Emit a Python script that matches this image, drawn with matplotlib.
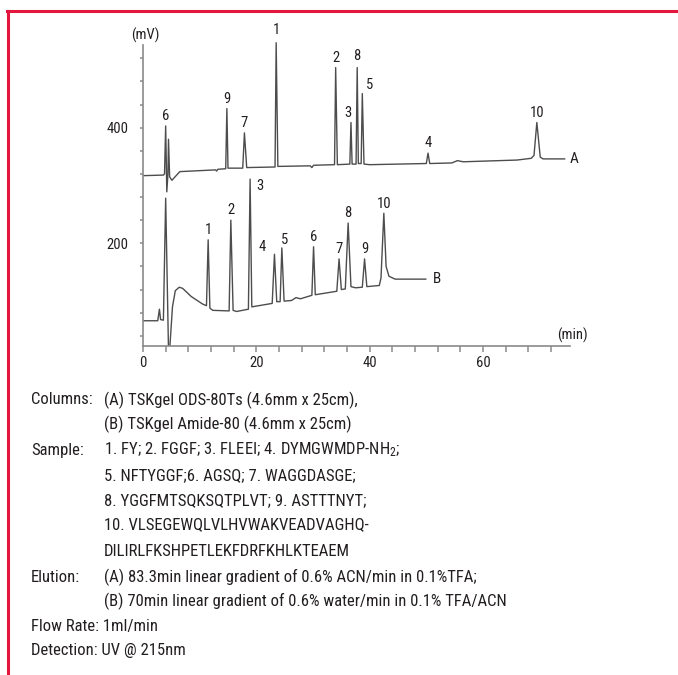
import numpy as np
import matplotlib.pyplot as plt
from matplotlib.lines import Line2D
from matplotlib import font_manager

# pick a condensed face if there is one, otherwise the narrowest plain sans
installed = {f.name for f in font_manager.fontManager.ttflist}
condensed = [n for n in ["Roboto Condensed", "Liberation Sans Narrow", "Arial Narrow",
                         "Open Sans Condensed"] if n in installed]
if condensed:
    face, scale = condensed[0], 1.0
else:
    face, scale = "Roboto", 0.86
plt.rcParams['font.family'] = [face, 'DejaVu Sans']
plt.rcParams['mathtext.default'] = 'regular'

# chromatogram A (TSKgel ODS-80Ts), time in min / signal in mV
a_time = [0, 3.6, 3.8, 4.0, 4.2, 4.4, 4.5, 4.7, 5.1, 6.5, 12.8, 13.0, 13.2,
          14.6, 14.8, 15.0, 17.6, 17.9, 18.3, 23.3, 23.5, 23.8, 29.5, 29.8, 30.1,
          33.8, 34.0, 34.3, 36.5, 36.7, 36.9, 37.6, 37.8, 38.0, 38.5, 38.7, 39.0,
          40.0, 50.0, 50.3, 50.6, 54.5, 55.5, 56.5, 66.0, 68.5, 69.0, 69.5, 70.1,
          70.6, 74.4]
a_mv = [317, 318, 320, 403, 289, 320, 380, 315, 309, 324, 327, 325, 328,
        329, 433, 330, 330, 391, 331, 332, 547, 333, 334, 331, 335,
        336, 504, 336, 337, 409, 337, 337, 504, 338, 338, 459, 337,
        336, 338, 356, 338, 339, 343, 341, 344, 347, 352, 409, 349,
        346, 346]

# chromatogram B (TSKgel Amide-80)
b_time = [0, 2.6, 2.9, 3.1, 3.6, 4.0, 4.5, 4.7, 5.2, 5.7, 6.4, 7.0, 8.5, 10.5,
          11.2, 11.5, 11.8, 12.3, 15.2, 15.5, 15.9, 16.5, 18.6, 18.9, 19.2,
          22.8, 23.2, 23.6, 24.2, 24.5, 24.9, 26.2, 27.0, 27.8, 29.8, 30.1, 30.4,
          34.2, 34.6, 35.0, 35.7, 36.2, 36.7, 37.5, 38.7, 39.1, 39.5, 41.7, 42.0,
          42.5, 42.9, 43.4, 44.5, 49.9]
b_mv = [66, 66, 86, 68, 67, 278, 15, 15, 90, 118, 124, 122, 108, 95,
        92, 206, 88, 84, 83, 240, 84, 82, 86, 311, 90,
        96, 181, 99, 99, 192, 100, 101, 106, 104, 110, 194, 111,
        117, 173, 120, 121, 235, 125, 123, 124, 173, 125, 127, 140,
        252, 160, 143, 138, 138]

# peak numbers
a_peaks = ["6", "9", "7", "1", "2", "3", "8", "5", "4", "10"]
a_peak_time = [4.0, 14.8, 17.9, 23.5, 34.0, 36.7, 37.8, 38.7, 50.3, 69.5]
a_peak_mv = [403, 433, 391, 547, 504, 409, 504, 459, 356, 409]
b_peaks = ["1", "2", "3", "4", "5", "6", "7", "8", "9", "10"]
b_peak_time = [11.5, 15.5, 18.9, 23.2, 24.5, 30.1, 34.6, 36.2, 39.1, 42.5]
b_peak_mv = [206, 240, 311, 181, 192, 194, 173, 235, 173, 252]

x_ticks = np.arange(0, 73, 4)
x_labels = ["0", "20", "40", "60"]
y_ticks = np.arange(40, 521, 40)
y_labels = ["200", "400"]

info_labels = ["Columns:", "", "Sample:", "", "", "", "", "Elution:", "",
               "Flow Rate: 1ml/min", "Detection: UV @ 215nm"]
info_values = ["(A) TSKgel ODS-80Ts (4.6mm x 25cm),",
               "(B) TSKgel Amide-80 (4.6mm x 25cm)",
               "1. FY; 2. FGGF; 3. FLEEI; 4. DYMGWMDP-NH$_2$;",
               "5. NFTYGGF;6. AGSQ; 7. WAGGDASGE;",
               "8. YGGFMTSQKSQTPLVT; 9. ASTTTNYT;",
               "10. VLSEGEWQLVLHVWAKVEADVAGHQ-",
               "DILIRLFKSHPETLEKFDRFKHLKTEAEM",
               "(A) 83.3min linear gradient of 0.6% ACN/min in 0.1%TFA;",
               "(B) 70min linear gradient of 0.6% water/min in 0.1% TFA/ACN",
               "", ""]
info_rows_px = [400, 424, 450, 476, 501, 525, 551, 577, 601, 626, 650]

W, H = 678, 675
trace_col = "#4d4d4d"
axis_col = "#8a8a8a"
text_col = "#231f20"
red = "#e3173e"
fs_block = 12.0 * scale
fs_small = 10.5 * (1 if scale == 1 else 0.95)

fig = plt.figure(figsize=(W / 100, H / 100), dpi=100)
ax = fig.add_axes([143 / W, 1 - 345.6 / H, 426.7 / W, 310.4 / H])

ax.plot(a_time, a_mv, color=trace_col, lw=1.0)
ax.plot(b_time, b_mv, color=trace_col, lw=1.0)

ax.set_xlim(0, 75.3)
ax.set_ylim(23, 560)
for s in ["top", "right"]:
    ax.spines[s].set_visible(False)
ax.spines["left"].set_bounds(23, 543)
for s in ["left", "bottom"]:
    ax.spines[s].set_color(axis_col)
    ax.spines[s].set_linewidth(1.2)

ax.set_xticks(x_ticks)
ax.set_xticklabels([x_labels[t // 20] if t % 20 == 0 else "" for t in x_ticks])
ax.set_yticks(y_ticks)
ax.set_yticklabels([y_labels[t // 200 - 1] if t % 200 == 0 else "" for t in y_ticks])
ax.tick_params(axis="x", direction="out", length=4.5, width=1.1, color=axis_col,
               labelsize=fs_small, labelcolor=text_col, pad=3)
ax.tick_params(axis="y", direction="out", length=2.5, width=1.1, color=axis_col,
               labelsize=fs_small, labelcolor=text_col, pad=8)

ax.text(0.4, 559, "(mV)", ha="center", va="center", fontsize=fs_small,
        color=text_col, clip_on=False)
ax.text(75.7, 41, "(min)", ha="center", va="center", fontsize=fs_small,
        color=text_col, clip_on=False)

# peak numbers
a_off = {"1": (0, 9), "3": (-2, 7), "5": (5, 6), "8": (0, 8)}
for lab, t, v in zip(a_peaks, a_peak_time, a_peak_mv):
    ax.annotate(lab, (t, v), xytext=a_off.get(lab, (0, 7)), textcoords="offset points",
                ha="center", va="center", fontsize=fs_small, color=text_col,
                annotation_clip=False)
b_off = {"3": (7, -5), "4": (-9, 5), "5": (2, 6)}
for lab, t, v in zip(b_peaks, b_peak_time, b_peak_mv):
    ax.annotate(lab, (t, v), xytext=b_off.get(lab, (0, 7)), textcoords="offset points",
                ha="center", va="center", fontsize=fs_small, color=text_col,
                annotation_clip=False)

ax.annotate("A", (a_time[-1], a_mv[-1]), xytext=(4, 0), textcoords="offset points",
            ha="left", va="center", fontsize=fs_small + 0.5, color=text_col)
ax.annotate("B", (b_time[-1], b_mv[-1]), xytext=(5, 0), textcoords="offset points",
            ha="left", va="center", fontsize=fs_small + 0.5, color=text_col)

# conditions block
for lab, val, ypx in zip(info_labels, info_values, info_rows_px):
    y = 1 - ypx / H
    if lab:
        fig.text(31 / W, y, lab, ha="left", va="center", fontsize=fs_block, color=text_col)
    if val:
        fig.text(104 / W, y, val, ha="left", va="center", fontsize=fs_block, color=text_col)

# red frame of the figure box
fig.add_artist(Line2D([7 / W, 1], [1 - 11 / H, 1 - 11 / H], color=red, lw=2.2))
fig.add_artist(Line2D([8 / W, 8 / W], [0, 1 - 11 / H], color=red, lw=2.2))

fig.savefig("out.png", dpi=100)
